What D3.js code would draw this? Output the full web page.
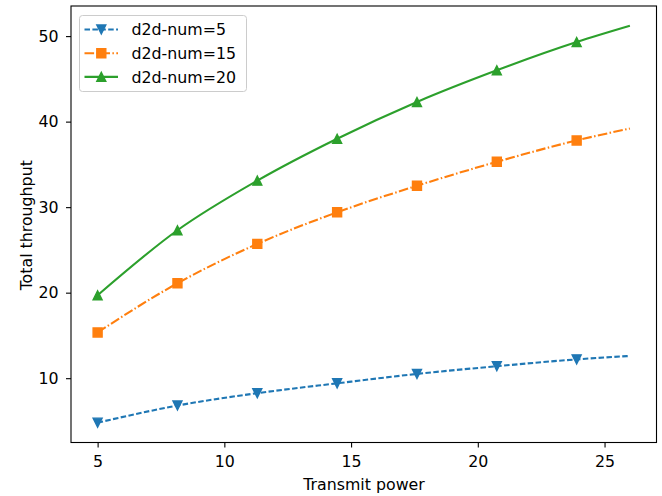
<!DOCTYPE html>
<html><head><meta charset="utf-8">
<script src="https://cdn.jsdelivr.net/npm/d3@7"></script>
<style>body{margin:0;background:#fff}svg{display:block;font-family:"DejaVu Sans",sans-serif}</style>
</head><body><svg id="c" width="662" height="496"></svg>
<script>
// Data
const xValues = [5, 8.15, 11.3, 14.45, 17.6, 20.75, 23.9, 26];
const markerCount = 7; // markers on the first 7 points (last point is line end only)
const seriesNames = ["d2d-num=5", "d2d-num=15", "d2d-num=20"];
const seriesColors = ["#1f77b4", "#ff7f0e", "#2ca02c"];
const seriesMarkers = ["triangleDown", "square", "triangleUp"];
const seriesDash = ["5.5,2.4", "9.6,2.4,1.5,2.4", null];
const y5  = [4.8, 6.8, 8.25, 9.4, 10.5, 11.4, 12.2, 12.6];
const y15 = [15.35, 21.1, 25.7, 29.4, 32.5, 35.3, 37.8, 39.2];
const y20 = [19.7, 27.3, 33.1, 38.0, 42.3, 46.0, 49.3, 51.2];
const xTicks = [5, 10, 15, 20, 25];
const yTicks = [10, 20, 30, 40, 50];
const xLabel = "Transmit power";
const yLabel = "Total throughput";

const seriesValues = [y5, y15, y20];
const svg = d3.select("#c");
const L = 71, R = 656.5, T = 6, B = 442.5;
const x = d3.scaleLinear().domain([3.95, 27.05]).range([L, R]);
const y = d3.scaleLinear().domain([2.48, 53.52]).range([B, T]);

const fs = 15.8;
// axes
const gx = svg.append("g").attr("transform", `translate(0,${B})`)
  .call(d3.axisBottom(x).tickValues(xTicks).tickSize(5).tickPadding(8).tickFormat(d3.format("d")));
const gy = svg.append("g").attr("transform", `translate(${L},0)`)
  .call(d3.axisLeft(y).tickValues(yTicks).tickSize(5).tickPadding(7.5).tickFormat(d3.format("d")));
[gx, gy].forEach(g => {
  g.select(".domain").remove();
  g.selectAll("line").attr("stroke", "#000").attr("stroke-width", 1.1);
  g.selectAll("text").attr("font-size", fs).attr("fill", "#000").attr("font-family", "DejaVu Sans");
});
svg.append("rect").attr("x", L).attr("y", T).attr("width", R - L).attr("height", B - T)
  .attr("fill", "none").attr("stroke", "#000").attr("stroke-width", 1.1);

svg.append("text").attr("x", 364).attr("y", 490).attr("text-anchor", "middle")
  .attr("font-size", fs).text(xLabel);
svg.append("text").attr("transform", `translate(32,${(T + B) / 2 + 1}) rotate(-90)`)
  .attr("text-anchor", "middle").attr("font-size", fs).text(yLabel);

const ms = 9;
function markerPath(type) {
  const h = ms / 2;
  if (type === "square") return `M${-h},${-h}H${h}V${h}H${-h}Z`;
  if (type === "triangleUp") return `M0,${-h}L${h},${h}L${-h},${h}Z`;
  return `M0,${h}L${h},${-h}L${-h},${-h}Z`;
}

const line = d3.line().x(d => x(d[0])).y(d => y(d[1])).curve(d3.curveMonotoneX);
const plot = svg.append("g");
seriesValues.forEach((vals, i) => {
  const pts = xValues.map((xv, j) => [xv, vals[j]]);
  plot.append("path").attr("d", line(pts)).attr("fill", "none")
    .attr("stroke", seriesColors[i]).attr("stroke-width", 2.1)
    .attr("stroke-dasharray", seriesDash[i]);
  plot.selectAll(null).data(pts.slice(0, markerCount)).enter().append("path")
    .attr("transform", d => `translate(${x(d[0])},${y(d[1])})`)
    .attr("d", markerPath(seriesMarkers[i]))
    .attr("fill", seriesColors[i]).attr("stroke", seriesColors[i]).attr("stroke-width", 1.4);
});

// legend
const lg = svg.append("g");
lg.append("rect").attr("x", 79.5).attr("y", 15.5).attr("width", 167).attr("height", 76).attr("rx", 3)
  .attr("fill", "#fff").attr("fill-opacity", 0.8).attr("stroke", "#ccc").attr("stroke-width", 1);
seriesNames.forEach((name, i) => {
  const cy = 29.5 + i * 23.7;
  lg.append("line").attr("x1", 84.5).attr("x2", 118).attr("y1", cy).attr("y2", cy)
    .attr("stroke", seriesColors[i]).attr("stroke-width", 2.1).attr("stroke-dasharray", seriesDash[i]);
  lg.append("path").attr("transform", `translate(101.3,${cy})`).attr("d", markerPath(seriesMarkers[i]))
    .attr("fill", seriesColors[i]).attr("stroke", seriesColors[i]).attr("stroke-width", 1.4);
  lg.append("text").attr("x", 131.5).attr("y", cy).attr("dy", "0.36em").attr("font-size", fs).text(name);
});
</script></body></html>
